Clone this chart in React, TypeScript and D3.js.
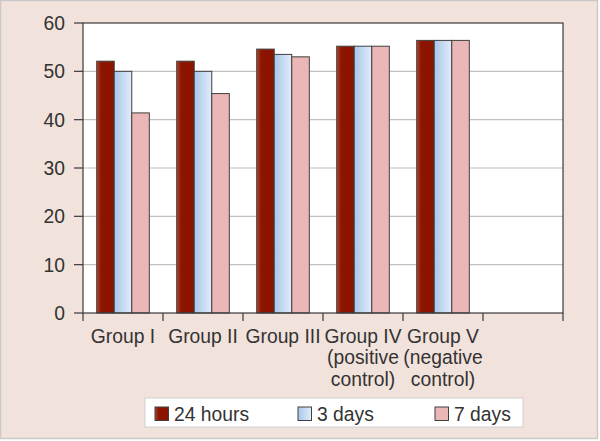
import React from 'react';
import * as d3 from 'd3';

// groups along the x axis; the last slot is empty in the original chart
const groupLabels: string[][] = [
  ['Group I'],
  ['Group II'],
  ['Group III'],
  ['Group IV', '(positive', 'control)'],
  ['Group V', '(negative', 'control)'],
  [],
];
const seriesNames = ['24 hours', '3 days', '7 days'];
const hours24 = [52.1, 52.1, 54.6, 55.2, 56.4];
const days3 = [50.0, 50.0, 53.5, 55.2, 56.4];
const days7 = [41.4, 45.4, 53.0, 55.2, 56.4];
const yTicks = [0, 10, 20, 30, 40, 50, 60];

const W = 600;
const H = 441;
const FONT = '"Liberation Sans", Arial, sans-serif';
const FS = 19.3;
const TEXT = '#333333';
const fills = ['url(#g-red)', 'url(#g-blue)', '#ebb6b6'];

export default function App() {
  const plot = { left: 83, right: 563, top: 23, bottom: 313 };
  const slots = groupLabels.map((_, i) => String(i));
  const seriesValues = [hours24, days3, days7];

  const x = d3.scaleBand().domain(slots).range([plot.left, plot.right]).padding(0);
  const xInner = d3.scaleBand().domain(seriesNames).range([0, x.bandwidth()]).paddingInner(0).paddingOuter(0.78);
  const y = d3.scaleLinear().domain([0, 60]).range([plot.bottom, plot.top]);

  const legend = { x: 145, y: 398, w: 378, h: 29 };
  const legendOffsets = [10, 153, 290];

  return (
    <svg width={W} height={H} style={{ position: 'absolute', left: 0, top: 0 }} fontFamily={FONT}>
      <defs>
        <linearGradient id="g-red" x1="0" x2="1" y1="0" y2="0">
          <stop offset="0%" stopColor="#b0482e" />
          <stop offset="25%" stopColor="#8c1500" />
          <stop offset="100%" stopColor="#8a1400" />
        </linearGradient>
        <linearGradient id="g-blue" x1="0" x2="1" y1="0" y2="0">
          <stop offset="0%" stopColor="#a7c7ec" />
          <stop offset="100%" stopColor="#e2ecf8" />
        </linearGradient>
      </defs>
      <rect x={0.5} y={0.5} width={W - 3} height={H - 3} fill="#f2e2dc" stroke="#c9c9c9" strokeWidth={1.5} />

      {/* plot area */}
      <rect x={plot.left} y={plot.top} width={plot.right - plot.left} height={plot.bottom - plot.top} fill="#ffffff" />
      {yTicks.slice(1, -1).map((t) => (
        <line key={t} x1={plot.left} x2={plot.right} y1={y(t)} y2={y(t)} stroke="#c0c0c0" strokeWidth={1.2} />
      ))}

      {/* bars */}
      {seriesValues.map((vals, si) =>
        vals.map((v, gi) => (
          <rect
            key={`${si}-${gi}`}
            x={(x(slots[gi]) ?? 0) + (xInner(seriesNames[si]) ?? 0)}
            y={y(v)}
            width={xInner.bandwidth()}
            height={y(0) - y(v)}
            fill={fills[si]}
            stroke="#404040"
            strokeWidth={1}
          />
        ))
      )}

      {/* frame */}
      <rect x={plot.left} y={plot.top} width={plot.right - plot.left} height={plot.bottom - plot.top} fill="none" stroke="#3a3a3a" strokeWidth={1.2} />

      {/* y axis */}
      {yTicks.map((t) => (
        <g key={t}>
          <line x1={plot.left - 9} x2={plot.left} y1={y(t)} y2={y(t)} stroke="#3a3a3a" strokeWidth={1.2} />
          <text x={65} y={y(t)} dy="0.36em" textAnchor="end" fontSize={FS} fill={TEXT}>
            {t}
          </text>
        </g>
      ))}

      {/* x axis ticks at band edges */}
      {[...slots.map((s) => x(s) ?? 0), plot.right].map((px, i) => (
        <line key={i} x1={px} x2={px} y1={plot.bottom} y2={plot.bottom + 8} stroke="#3a3a3a" strokeWidth={1.2} />
      ))}
      {groupLabels.map((lines, gi) => (
        <text key={gi} x={(x(slots[gi]) ?? 0) + x.bandwidth() / 2} y={342.5} textAnchor="middle" fontSize={FS} fill={TEXT}>
          {lines.map((l, li) => (
            <tspan key={li} x={(x(slots[gi]) ?? 0) + x.bandwidth() / 2} dy={li === 0 ? 0 : 21.7}>
              {l}
            </tspan>
          ))}
        </text>
      ))}

      {/* legend */}
      <rect x={legend.x} y={legend.y} width={legend.w} height={legend.h} fill="#ffffff" stroke="#d0d0d0" strokeWidth={1} />
      {seriesNames.map((name, i) => (
        <g key={name} transform={`translate(${legend.x + legendOffsets[i]},${legend.y + 9})`}>
          <rect x={0} y={0} width={13.5} height={13.5} fill={fills[i]} stroke="#404040" strokeWidth={1} />
          <text x={19} y={7} dy="0.36em" fontSize={FS} fill={TEXT}>
            {name}
          </text>
        </g>
      ))}
    </svg>
  );
}
